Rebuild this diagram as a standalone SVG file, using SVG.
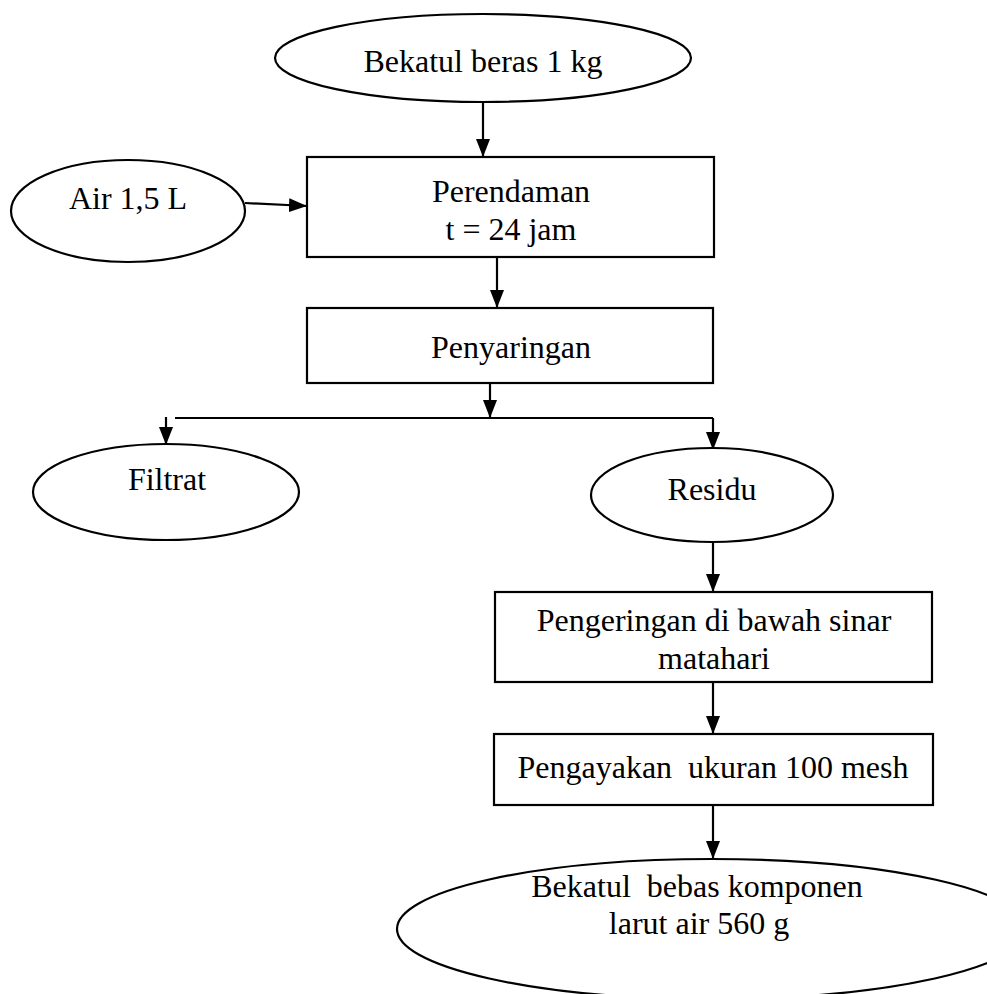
<svg xmlns="http://www.w3.org/2000/svg" width="987" height="994" viewBox="0 0 987 994">
  <style>
    .shape { fill: #ffffff; stroke: #000000; stroke-width: 2.2; }
    .edge { fill: none; stroke: #000000; stroke-width: 2.2; }
    .label { font-family: "Liberation Serif", "Times New Roman", serif; font-size: 32px; fill: #000000; text-anchor: middle; }
  </style>
  <defs>
    <marker id="arrow" markerUnits="userSpaceOnUse" markerWidth="18" markerHeight="16" viewBox="0 0 18 16" refX="18" refY="8" orient="auto">
      <path d="M0,1 L18,8 L0,15 Z" fill="#000000"/>
    </marker>
  </defs>
  <rect width="987" height="994" fill="#ffffff"/>

  <g id="connectors">
    <line class="edge" x1="483" y1="102" x2="483" y2="157" marker-end="url(#arrow)"/>
    <line class="edge" x1="245" y1="203" x2="307" y2="206" marker-end="url(#arrow)"/>
    <line class="edge" x1="497" y1="257" x2="497" y2="308" marker-end="url(#arrow)"/>
    <line class="edge" x1="490" y1="383" x2="490" y2="418" marker-end="url(#arrow)"/>
    <line class="edge" x1="175" y1="418" x2="713" y2="418"/>
    <line class="edge" x1="166" y1="417" x2="166" y2="445" marker-end="url(#arrow)"/>
    <line class="edge" x1="713" y1="418" x2="713" y2="450" marker-end="url(#arrow)"/>
    <line class="edge" x1="713" y1="543" x2="713" y2="592" marker-end="url(#arrow)"/>
    <line class="edge" x1="713" y1="682" x2="713" y2="734" marker-end="url(#arrow)"/>
    <line class="edge" x1="713" y1="805" x2="713" y2="859" marker-end="url(#arrow)"/>
  </g>

  <g id="bekatul-beras">
    <ellipse class="shape" cx="483" cy="58" rx="208" ry="44"/>
    <text class="label" x="483" y="72">Bekatul beras 1 kg</text>
  </g>

  <g id="air">
    <ellipse class="shape" cx="128" cy="211" rx="117" ry="51"/>
    <text class="label" x="128" y="209">Air 1,5 L</text>
  </g>

  <g id="perendaman">
    <rect class="shape" x="307" y="157" width="407" height="100"/>
    <text class="label" x="511" y="202">Perendaman</text>
    <text class="label" x="511" y="240">t = 24 jam</text>
  </g>

  <g id="penyaringan">
    <rect class="shape" x="307" y="308" width="406" height="75"/>
    <text class="label" x="511" y="358">Penyaringan</text>
  </g>

  <g id="filtrat">
    <ellipse class="shape" cx="166" cy="492" rx="133" ry="48"/>
    <text class="label" x="167" y="490">Filtrat</text>
  </g>

  <g id="residu">
    <ellipse class="shape" cx="712" cy="495" rx="121" ry="47"/>
    <text class="label" x="712" y="500">Residu</text>
  </g>

  <g id="pengeringan">
    <rect class="shape" x="495" y="592" width="437" height="90"/>
    <text class="label" x="714" y="631">Pengeringan di bawah sinar</text>
    <text class="label" x="714" y="669">matahari</text>
  </g>

  <g id="pengayakan">
    <rect class="shape" x="494" y="734" width="439" height="71"/>
    <text class="label" x="713" y="778" xml:space="preserve">Pengayakan  ukuran 100 mesh</text>
  </g>

  <g id="bekatul-bebas">
    <ellipse class="shape" cx="712" cy="929" rx="315" ry="70"/>
    <text class="label" x="697" y="897" xml:space="preserve">Bekatul  bebas komponen</text>
    <text class="label" x="699" y="934">larut air 560 g</text>
  </g>
</svg>
